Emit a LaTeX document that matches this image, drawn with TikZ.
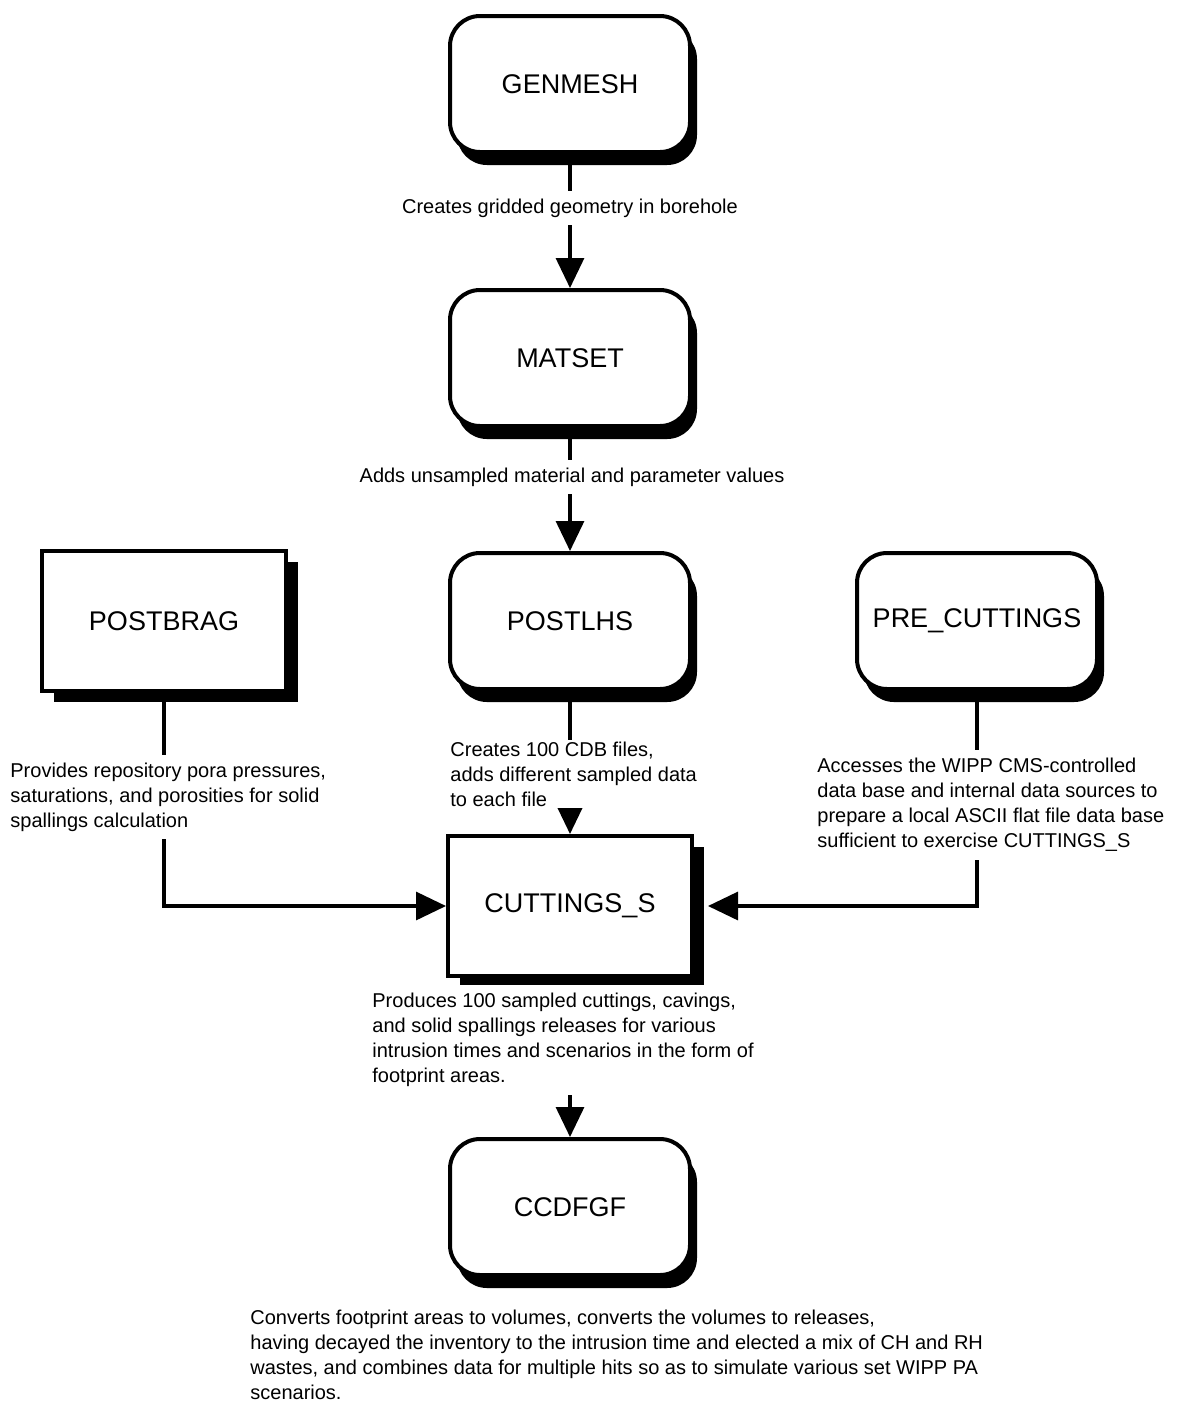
\documentclass[tikz,border=0pt]{standalone}
\usepackage{xcolor,tikz}
\usepackage{fontspec}
\setmainfont{Liberation Sans}
\usetikzlibrary{positioning,arrows.meta,shadows}

\begin{document}
\begin{tikzpicture}[x=0.5pt,y=-0.5pt,
  roundBox/.style={draw=drawColor,fill=white,line width=2pt,rounded corners=15pt,
    minimum width=120pt,minimum height=68pt,font=\fontsize{13.5}{15}\selectfont,
    drop shadow={shadow xshift=3.5pt,shadow yshift=-6.5pt,opacity=1,fill=drawColor}},
  rectBox/.style={draw=drawColor,fill=white,line width=2pt,
    minimum width=122pt,minimum height=70pt,font=\fontsize{13.5}{15}\selectfont,
    drop shadow={shadow xshift=6pt,shadow yshift=-5.5pt,opacity=1,fill=drawColor}},
  noteText/.style={fill=white,inner sep=4pt,align=left,font=\fontsize{10}{12.5}\selectfont},
  flowArrow/.style={draw=drawColor,line width=1.6pt,-{Triangle[width=14pt,length=15pt]}}]
\definecolor{drawColor}{RGB}{0,0,0}
\useasboundingbox[fill=white] (0,0) rectangle (1178,1405);

% programs
\node[roundBox] (genmesh) at (570,84) {GENMESH};
\node[roundBox] (matset) at (570,358) {MATSET};
\node[roundBox] (postlhs) at (570,621) {POSTLHS};
\node[roundBox] (precut) at (977,621) {PRE\_CUTTINGS};
\node[rectBox] (postbrag) at (164,621) {POSTBRAG};
\node[rectBox] (cut) at (570,906) {CUTTINGS\_S};
\node[roundBox] (ccdfgf) at (570,1207) {CCDFGF};

% data flow
\draw[flowArrow] (genmesh) -- (matset);
\draw[flowArrow] (matset) -- (postlhs);
\draw[flowArrow] (postlhs) -- (cut);
\draw[flowArrow] (postbrag) |- (cut);
\draw[flowArrow,shorten >=7pt] (precut) |- (cut);
\draw[flowArrow] (cut) -- (ccdfgf);

% descriptions
\node[noteText] (genNote) at (570,208) {Creates gridded geometry in borehole};
\node[noteText] (matNote) at (572,477) {Adds unsampled material and parameter values};
\node[noteText,anchor=west,inner sep=1pt] (lhsNote) at (448,774) {Creates 100 CDB files,\\ adds different sampled data\\ to each file};
\node[noteText,anchor=west] (bragNote) at (2,797) {Provides repository pora pressures,\\ saturations, and porosities for solid\\ spallings calculation};
\node[noteText,anchor=west] (preNote) at (809,805) {Accesses the WIPP CMS-controlled\\ data base and internal data sources to\\ prepare a local ASCII flat file data base\\ sufficient to exercise CUTTINGS\_S};
\node[noteText,anchor=west] (cutNote) at (364,1040) {Produces 100 sampled cuttings, cavings,\\ and solid spallings releases for various\\ intrusion times and scenarios in the form of\\ footprint areas.};
\node[noteText,anchor=west,inner sep=1pt] (ccdfNote) at (248,1355) {Converts footprint areas to volumes, converts the volumes to releases,\\ having decayed the inventory to the intrusion time and elected a mix of CH and RH\\ wastes, and combines data for multiple hits so as to simulate various set WIPP PA\\ scenarios.};
\end{tikzpicture}
\end{document}
